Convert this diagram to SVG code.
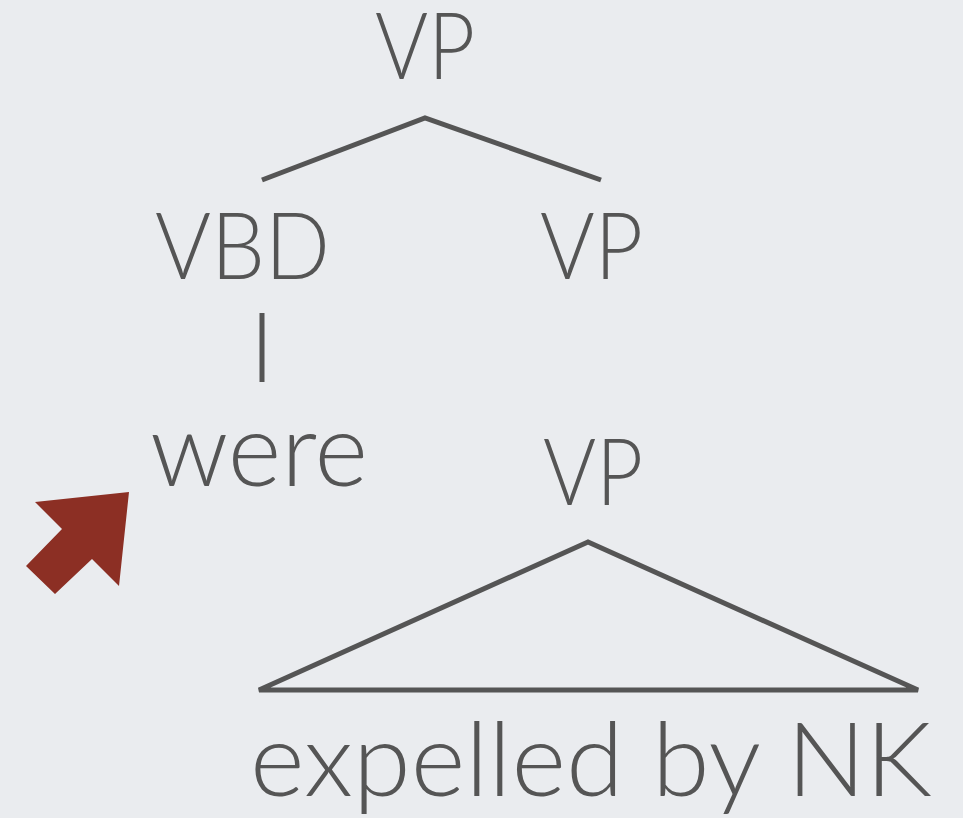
<svg xmlns="http://www.w3.org/2000/svg" width="963" height="818" viewBox="0 0 963 818">
<style>
.t{font-family:Lato,"Open Sans","Liberation Sans",sans-serif;font-weight:300;fill:#555555;font-size:92px}
.lw{font-size:102px}
.e{stroke:#555555;stroke-width:5;fill:none;stroke-linecap:butt;stroke-linejoin:miter}
</style>
<rect width="963" height="818" fill="#eaecef"/>
<g id="vp-top"><text class="t" x="375" y="79" textLength="100" lengthAdjust="spacingAndGlyphs">VP</text></g>
<g id="vbd"><text class="t" x="155" y="279" textLength="175" lengthAdjust="spacingAndGlyphs">VBD</text></g>
<g id="vp-mid"><text class="t" x="540" y="279" textLength="103" lengthAdjust="spacingAndGlyphs">VP</text></g>
<g id="were"><text class="t lw" x="150" y="486" textLength="218" lengthAdjust="spacingAndGlyphs">were</text></g>
<g id="vp-low"><text class="t" x="543" y="505" textLength="100" lengthAdjust="spacingAndGlyphs">VP</text></g>
<g id="phrase"><text class="t lw" x="250" y="796" textLength="682" lengthAdjust="spacingAndGlyphs">expelled by NK</text></g>
<g id="connectors">
<polyline class="e" points="262,180 425,118 601,180"/>
<line class="e" x1="262" y1="313" x2="262" y2="382" stroke-width="4"/>
<polygon class="e" points="588,542 259,690 918,690"/>
</g>
<g id="arrow"><polygon points="129,492 35,502 62,529 26,566 55,594 92,559 119,586" fill="#8c2f24"/></g>
</svg>
